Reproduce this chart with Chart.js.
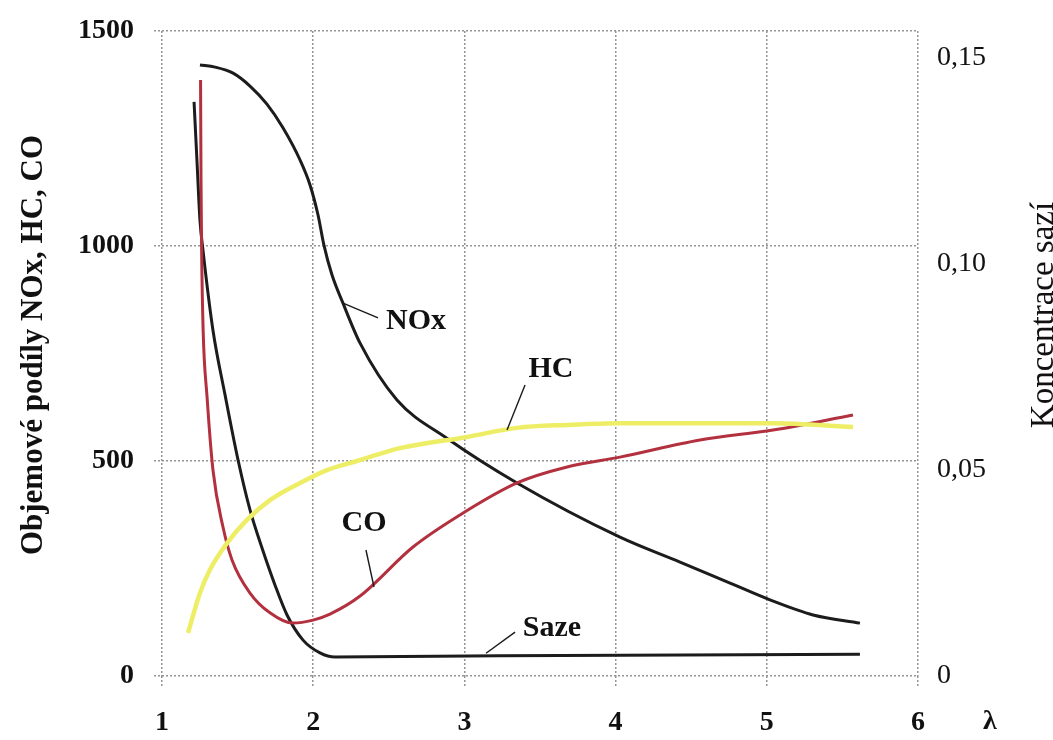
<!DOCTYPE html>
<html>
<head>
<meta charset="utf-8">
<title>NOx, HC, CO, saze vs lambda</title>
<script src="https://cdn.jsdelivr.net/npm/chart.js@4.4.1/dist/chart.umd.min.js"></script>
<style>
  html, body { margin: 0; padding: 0; background: #fff; }
  canvas { display: block; }
</style>
</head>
<body>
<canvas id="chart" width="1053" height="740"></canvas>
<script>
// Hodnoty (lambda na ose x)
const noxX = [1.251, 1.351, 1.470, 1.582, 1.694, 1.800, 1.913, 1.979, 2.032, 2.071, 2.124, 2.197, 2.310, 2.554, 2.884, 3.348, 4.029, 4.426, 4.757, 5.021, 5.306, 5.616];
const noxY = [1421, 1416, 1402, 1372, 1330, 1275, 1200, 1142, 1072, 1002, 933, 867, 774, 642, 553, 449, 323, 265, 216, 177, 142, 123];

const coX = [1.255, 1.258, 1.262, 1.272, 1.298, 1.337, 1.403, 1.463, 1.582, 1.714, 1.866, 1.999, 2.111, 2.310, 2.660, 2.991, 3.348, 3.679, 4.029, 4.558, 5.041, 5.570];
const coY = [1386, 1153, 991, 805, 649, 479, 347, 270, 193, 147, 123, 130, 144, 186, 300, 379, 449, 486, 509, 549, 572, 607];

const hcX = [1.172, 1.251, 1.317, 1.430, 1.562, 1.714, 1.913, 2.091, 2.290, 2.574, 3.017, 3.348, 3.679, 4.029, 4.558, 5.041, 5.570];
const hcY = [100, 193, 247, 309, 363, 409, 449, 479, 500, 530, 556, 577, 584, 588, 588, 588, 579];

// saze -> pravá osa (koncentrace)
const sazeX = [1.212, 1.231, 1.251, 1.271, 1.337, 1.417, 1.503, 1.582, 1.661, 1.747, 1.827, 1.933, 2.045, 2.144, 3.235, 5.616];
const sazeY = [0.1393, 0.1252, 0.1106, 0.1033, 0.0839, 0.0682, 0.0524, 0.0403, 0.0311, 0.0221, 0.0148, 0.0087, 0.0056, 0.0046, 0.0049, 0.0053];

const leftTicks = [0, 500, 1000, 1500];
const rightTicks = [0, 0.05, 0.10, 0.15];
const xTicks = [1, 2, 3, 4, 5, 6];

// popisky křivek: text, poloha textu, odkazová čára (vše v jednotkách os)
const tagText  = ["NOx", "HC", "CO", "Saze"];
const tagX     = [2.680, 3.573, 2.336, 3.579];
const tagY     = [826, 714, 356, 112];
const leadFrom = [[2.197, 867], [3.282, 572], [2.402, 207], [3.143, 53]];
const leadTo   = [[2.429, 833], [3.401, 677], [2.349, 293], [3.335, 102]];

const SERIF = '"Liberation Serif", "DejaVu Serif", serif';

function pts(xs, ys){ return xs.map((x, i) => ({x, y: ys[i]})); }
function czNum(v){ return v === 0 ? "0" : v.toFixed(2).replace(".", ","); }

const overlay = {
  id: "overlay",
  afterDatasetsDraw(chart){
    const {ctx, scales: {x, y}} = chart;
    ctx.save();
    ctx.strokeStyle = "#1a1a1a";
    ctx.lineWidth = 1.4;
    leadFrom.forEach((p, i) => {
      ctx.beginPath();
      ctx.moveTo(x.getPixelForValue(p[0]), y.getPixelForValue(p[1]));
      ctx.lineTo(x.getPixelForValue(leadTo[i][0]), y.getPixelForValue(leadTo[i][1]));
      ctx.stroke();
    });
    ctx.fillStyle = "#111";
    ctx.textAlign = "center";
    ctx.textBaseline = "middle";
    ctx.font = "bold 30px " + SERIF;
    tagText.forEach((t, i) => {
      ctx.fillText(t, x.getPixelForValue(tagX[i]), y.getPixelForValue(tagY[i]));
    });

    // lambda u osy x
    ctx.font = "bold 28px " + SERIF;
    ctx.fillText("λ", x.getPixelForValue(6) + 72, x.bottom - 18);

    // název levé osy
    ctx.save();
    ctx.translate(42, 345);
    ctx.rotate(-Math.PI / 2);
    ctx.textBaseline = "alphabetic";
    ctx.font = "bold 31px " + SERIF;
    ctx.fillText("Objemové podíly NOx, HC, CO", 0, 0);
    ctx.restore();

    // název pravé osy
    ctx.save();
    ctx.translate(1053, 315);
    ctx.rotate(-Math.PI / 2);
    ctx.textBaseline = "alphabetic";
    ctx.font = "33px " + SERIF;
    ctx.fillText("Koncentrace sazí", 0, 0);
    ctx.restore();
    ctx.restore();
  }
};

const gridStyle = {
  color: "#949494",
  lineWidth: 1.5,
  tickBorderDash: [2, 2],
  tickColor: "#949494",
  tickWidth: 1.5,
};
const dottedBorder = { display: false, dash: [2, 2] };

const lineStyle = { tension: 0, cubicInterpolationMode: "monotone", pointRadius: 0 };

// pevné rozměry os, aby plocha grafu seděla na 162..918 x 31..676
function fixVertical(w){
  return s => { s.width = w; s.paddingTop = 0; s.paddingBottom = 0; };
}

new Chart(document.getElementById("chart"), {
  type: "line",
  data: {
    datasets: [
      { label: "HC", data: pts(hcX, hcY), yAxisID: "y", borderColor: "#eeee66", borderWidth: 4.5, ...lineStyle },
      { label: "CO", data: pts(coX, coY), yAxisID: "y", borderColor: "#b3313f", borderWidth: 3, ...lineStyle },
      { label: "NOx", data: pts(noxX, noxY), yAxisID: "y", borderColor: "#1c1c1c", borderWidth: 3, ...lineStyle },
      { label: "Saze", data: pts(sazeX, sazeY), yAxisID: "y2", borderColor: "#1c1c1c", borderWidth: 3, ...lineStyle },
    ]
  },
  options: {
    responsive: false,
    animation: false,
    devicePixelRatio: 1,
    layout: { padding: { top: 31, left: 0, right: 0, bottom: 0 } },
    plugins: { legend: { display: false }, tooltip: { enabled: false } },
    scales: {
      x: {
        type: "linear", min: 1, max: 6,
        afterBuildTicks: s => { s.ticks = xTicks.map(v => ({value: v})); },
        afterFit: s => { s.height = 64; s.paddingLeft = 0; s.paddingRight = 0; },
        grid: { ...gridStyle, tickLength: 12 },
        border: dottedBorder,
        ticks: { color: "#111", padding: 18, callback: v => String(v), font: { family: SERIF, size: 28, weight: "bold" } },
      },
      y: {
        type: "linear", position: "left", min: 0, max: 1500,
        afterBuildTicks: s => { s.ticks = leftTicks.map(v => ({value: v})); },
        afterFit: fixVertical(162),
        grid: { ...gridStyle, tickLength: 8 },
        border: dottedBorder,
        ticks: { color: "#111", padding: 20, callback: v => String(v), font: { family: SERIF, size: 28, weight: "bold" } },
      },
      y2: {
        type: "linear", position: "right", min: 0, max: 0.15648,
        afterBuildTicks: s => { s.ticks = rightTicks.map(v => ({value: v})); },
        afterFit: fixVertical(135),
        grid: { display: false, drawOnChartArea: false, drawTicks: false },
        border: { display: false },
        ticks: { color: "#111", padding: 19, callback: v => czNum(v), font: { family: SERIF, size: 28 } },
      }
    }
  },
  plugins: [overlay]
});
</script>
</body>
</html>
